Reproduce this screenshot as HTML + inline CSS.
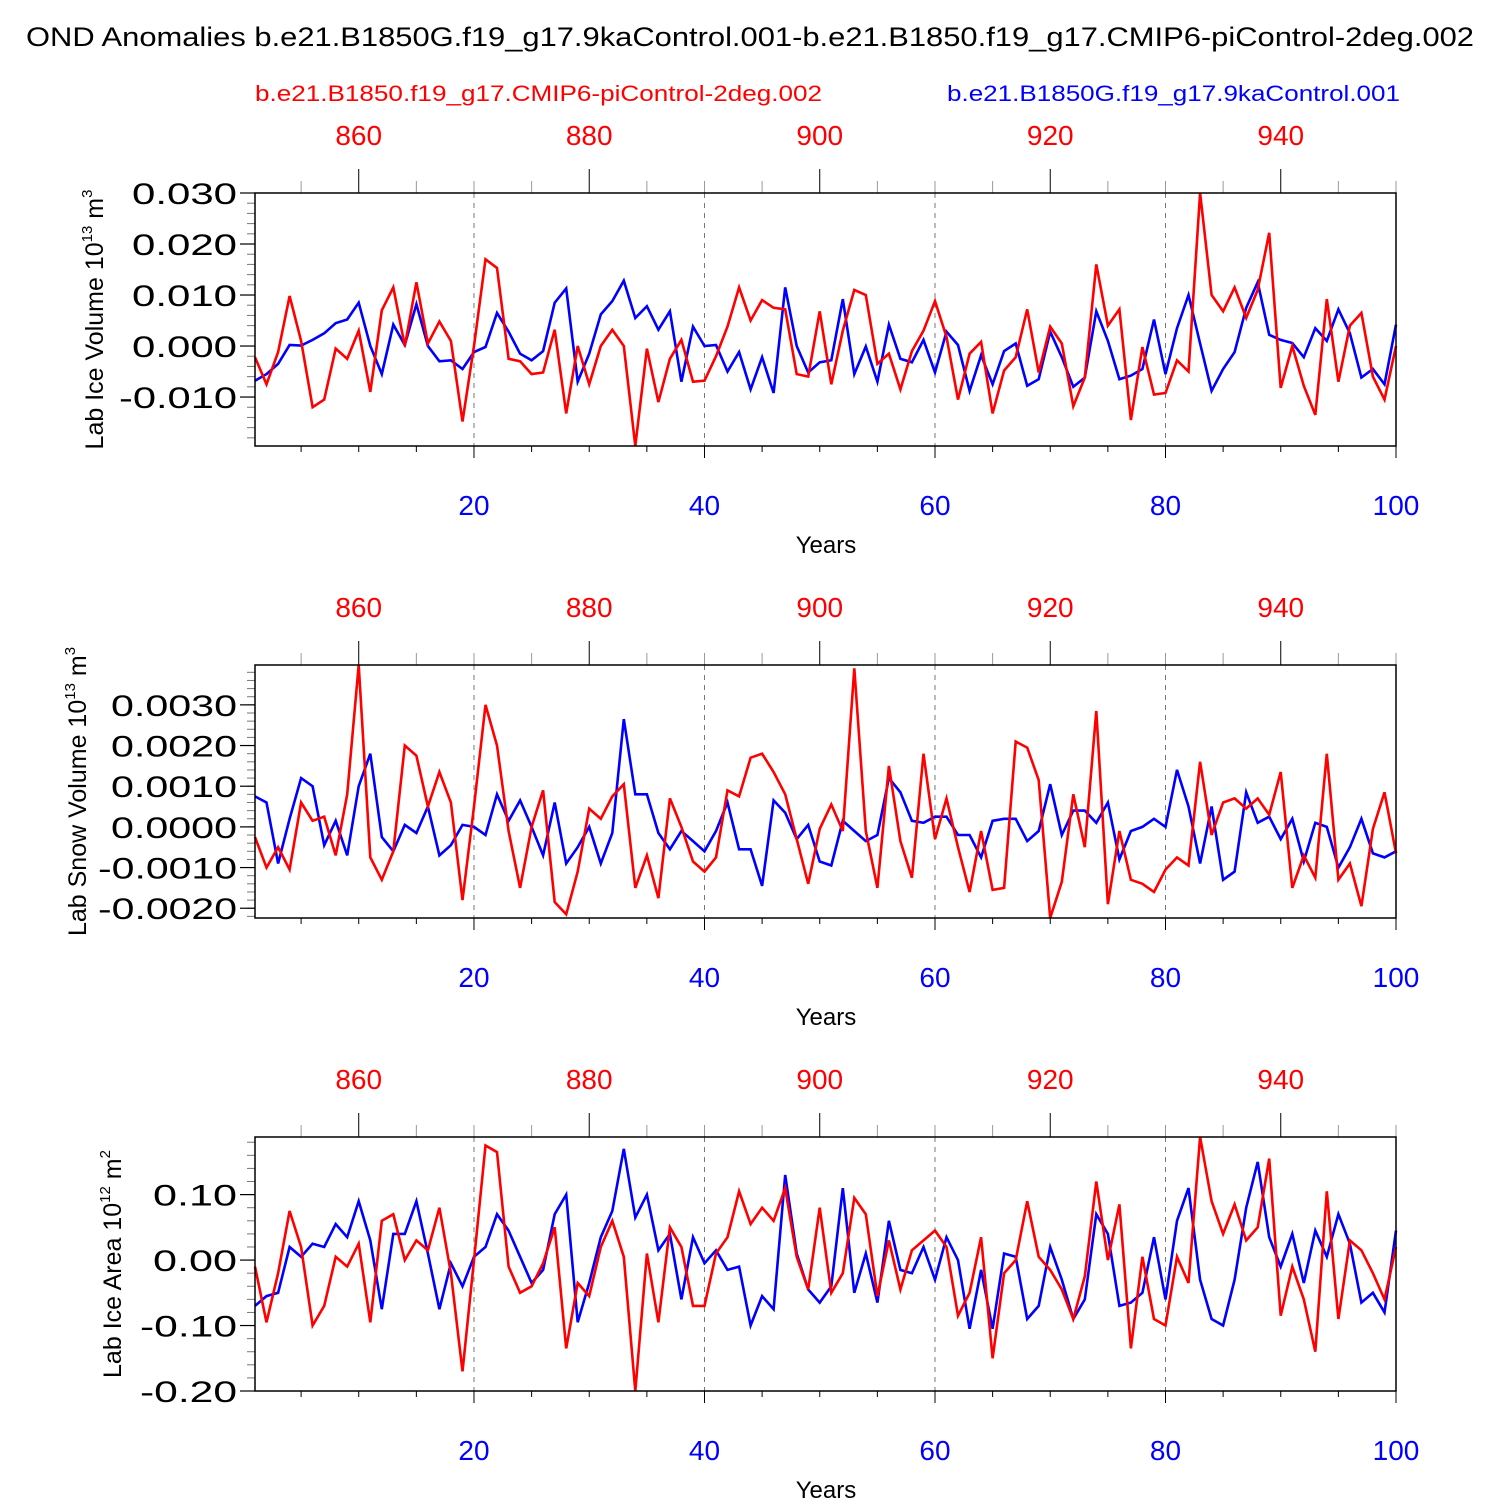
<!DOCTYPE html>
<html><head><meta charset="utf-8"><style>
html,body{margin:0;padding:0;background:#fff;}
svg{display:block;font-family:"Liberation Sans",sans-serif;}
</style></head><body>
<svg id="chart" width="1500" height="1500" viewBox="0 0 1500 1500" xmlns="http://www.w3.org/2000/svg">
<text x="26" y="46" font-size="27" textLength="1448" lengthAdjust="spacingAndGlyphs">OND Anomalies b.e21.B1850G.f19_g17.9kaControl.001-b.e21.B1850.f19_g17.CMIP6-piControl-2deg.002</text>
<text x="255" y="101" font-size="22" fill="#f00" textLength="567" lengthAdjust="spacingAndGlyphs">b.e21.B1850.f19_g17.CMIP6-piControl-2deg.002</text>
<text x="947" y="101" font-size="22" fill="#00f" textLength="453" lengthAdjust="spacingAndGlyphs">b.e21.B1850G.f19_g17.9kaControl.001</text>
<g id="panels"></g>
</svg>
<script>
const years = Array.from({length:100},(_,i)=>i+1);
const ctlOffset = 850;
const topTickYears = [860,880,900,920,940];
const bottomTickYears = [20,40,60,80,100];
// Panel 1: Lab Ice Volume (x1e-3)
const iceVolBlue = [-6.8,-5.5,-3.5,0.2,0.1,1.2,2.5,4.5,5.2,8.5,0,-5.5,4.2,0.2,8.2,0,-3,-2.8,-4.5,-1.2,-0.2,6.5,2.8,-1.5,-2.8,-1,8.5,11.3,-7,-1.5,6.2,8.8,12.8,5.5,7.8,3.2,6.8,-7,3.8,0,0.2,-5,-1.2,-8.5,-2.2,-9.2,11.5,0,-5.2,-3.2,-2.8,9.2,-5.5,-0.1,-7,4.2,-2.5,-3.2,1.2,-5.2,2.8,0.2,-8.8,-1.8,-7.5,-1,0.5,-7.8,-6.5,2.8,-2.2,-8,-6.2,6.8,1,-6.5,-5.8,-4.5,5.2,-5.5,3.5,10,0.5,-8.8,-4.5,-1.2,7.5,12.5,2.2,1.2,0.6,-2.2,3.5,1,7.2,2.5,-6.2,-4.5,-7.5,4.2];
const iceVolRed = [-2.2,-7.5,-1.2,9.8,1,-12,-10.5,-0.5,-2.5,3,-9,7,11.5,0,12.5,0.5,4.8,1,-14.8,0,17,15.3,-2.5,-3,-5.5,-5.2,3.2,-13.2,0,-7.5,0,3.2,0,-19.6,-0.5,-11,-2.5,1.2,-7,-6.8,-2,3.8,11.5,5,9,7.5,7.2,-5.5,-6,6.8,-7.5,3,11,10,-3.5,-1.5,-8.5,-1,3,8.8,1.8,-10.5,-1.5,0.8,-13.2,-4.8,-2.2,7.2,-5.2,3.8,0.5,-11.8,-6.2,16,4,7.2,-14.5,-0.2,-9.5,-9.2,-2.8,-5,30,10,6.8,11.5,5.5,11,22.2,-8.2,0,-7.8,-13.5,9.2,-7,4,6.5,-6,-10.5,0];
// Panel 2: Lab Snow Volume (x1e-4)
const snowVolBlue = [7.5,6,-9,2,12,10,-4.5,1.5,-7,10,18,-2.5,-6,0.5,-1.5,5,-7,-4.5,0.5,0,-2,8,1.5,6.5,0,-7,6,-9,-5,0,-9,-1.5,26.5,8,8,-1.5,-5.5,-1,-3.5,-6,-1,6,-5.5,-5.5,-14.5,6.5,3.5,-3,0.5,-8.5,-9.5,1.5,-1,-3.5,-2,12,8.5,1.5,1,2.5,2.5,-2,-2,-7.5,1.5,2,2,-3.5,-1,10.5,-2,4,4,1,6,-8,-1,0,2,0,14,5,-9,5,-13,-11,8.5,1,2.5,-3,2,-8.5,1,0,-10,-5,2,-6.5,-7.5,-6];
const snowVolRed = [-2.5,-10,-5,-10.5,6,1.5,2.5,-7,8,39.8,-7.5,-13,-6,20,17.5,5,13.5,6,-18,5,30,20,-1,-15,0,9,-18.5,-21.5,-11,4.5,2,7.5,10.5,-15,-7,-17.5,7,0,-8.5,-11,-7.5,9,7.5,17,18,13.5,8,-3,-14,-0.5,5.5,-1,39,-1,-15,15,-3.5,-12.5,18,-3,7,-5,-16,-1,-15.5,-15,21,19.5,11.5,-22.4,-13.5,8,-5,28.5,-19,-1,-13,-14,-16,-10.5,-7.5,-9.5,16,-2,6,7,4.5,7,3,13.5,-15,-7,-12.5,18,-13,-9,-19.5,-0.5,8.5,-6.5];
// Panel 3: Lab Ice Area (x1e-2)
const iceAreaBlue = [-7,-5.5,-5,2,0.5,2.5,2,5.5,3.5,9,3,-7.5,4,4,9,1,-7.5,-0.5,-4,0.5,2,7,4.5,0.5,-3.5,-1.5,7,10,-9.5,-3.5,3.5,7.5,17,6.5,10,1.5,4,-6,3.5,-0.5,1.5,-1.5,-1,-10,-5.5,-7.5,13,1,-4.5,-6.5,-4,11,-5,1,-6.5,6,-1.5,-2,2,-3,3.5,0,-10.5,-1.5,-10.5,1,0.5,-9,-7,2,-3,-9,-6,7,4,-7,-6.5,-5,3.5,-6,6,11,-3,-9,-10,-3,8,15,3.5,-1,4,-3.5,4.5,0.5,7,2.5,-6.5,-5,-8,4.5];
const iceAreaRed = [-1,-9.5,-2,7.5,2,-10,-7,0.5,-1,2.5,-9.5,6,7,0,3,1.5,8,-2,-17,0,17.5,16.5,-1,-5,-4,-0.5,5,-13.5,-3.5,-5.5,2,6,0.5,-20,1,-9.5,5,2,-7,-7,1,3.5,10.5,5.5,8,6,11,0.5,-4.5,8,-5,-2,9.5,7,-5.5,3,-4.5,1.5,3,4.5,2,-8.5,-5,3.5,-15,-2,0,9,0.5,-1.5,-4.5,-9,-2.5,12,0,8.5,-13.5,0.5,-9,-10,0.5,-3.5,18.8,9,4,8.5,3,5,15.5,-8.5,-1,-6,-14,10.5,-9,3,1.5,-2,-6,2];

const NS="http://www.w3.org/2000/svg";
const root=document.getElementById('panels');
function el(tag,attrs,parent){const e=document.createElementNS(NS,tag);for(const k in attrs)e.setAttribute(k,attrs[k]);(parent||root).appendChild(e);return e;}
const X0=255,X1=1396;
function xs(yr){return X0+(yr-1)*(X1-X0)/99;}

const panels=[
 {name:'ice-volume',top:193,bot:446,ymin:-0.0196,ymax:0.030,scale:1e-3,blue:iceVolBlue,red:iceVolRed,
  major:[0.03,0.02,0.01,0,-0.01],labels:['0.030','0.020','0.010','0.000','-0.010'],minorStep:0.002,
  title:['Lab Ice Volume 10','13',' m','3'],tx:103},
 {name:'snow-volume',top:665,bot:918,ymin:-0.00224,ymax:0.00398,scale:1e-4,blue:snowVolBlue,red:snowVolRed,
  major:[0.003,0.002,0.001,0,-0.001,-0.002],labels:['0.0030','0.0020','0.0010','0.0000','-0.0010','-0.0020'],minorStep:0.0002,
  title:['Lab Snow Volume 10','13',' m','3'],tx:86},
 {name:'ice-area',top:1137,bot:1391,ymin:-0.200,ymax:0.188,scale:1e-2,blue:iceAreaBlue,red:iceAreaRed,
  major:[0.1,0,-0.1,-0.2],labels:['0.10','0.00','-0.10','-0.20'],minorStep:0.02,
  title:['Lab Ice Area 10','12',' m','2'],tx:121}
];

panels.forEach(p=>{
 const g=el('g',{});
 
 
 const ys=v=>p.bot-(v-p.ymin)/(p.ymax-p.ymin)*(p.bot-p.top);
 [20,40,60,80].forEach(yr=>{
  const l=el('line',{x1:xs(yr),x2:xs(yr),y1:p.top,y2:p.bot,stroke:'#777','stroke-width':1,'stroke-dasharray':'5,5'},g);
  
  
 });
 for(let yr=5;yr<=100;yr+=5){
  const major=yr%20===0;
  el('line',{x1:xs(yr),x2:xs(yr),y1:p.bot,y2:p.bot+(major?12:6),stroke:'#000','stroke-width':1},g);
 }
 bottomTickYears.forEach(yr=>{
  const t=el('text',{x:xs(yr),y:p.bot+69,'font-size':28,fill:'#00f','text-anchor':'middle'},g);
  t.textContent=yr;
  
  
 });
 const xt=el('text',{x:826,y:p.bot+107,'font-size':24,'text-anchor':'middle'},g);
 xt.textContent='Years';
 
 
 for(let ry=855;ry<=950;ry+=5){
  const yr=ry-ctlOffset;if(yr<1||yr>100)continue;
  const major=ry%20===0;
  el('line',{x1:xs(yr),x2:xs(yr),y1:p.top,y2:p.top-(major?24:12),stroke:major?'#000':'#999','stroke-width':1},g);
 }
 topTickYears.forEach(ry=>{
  const t=el('text',{x:xs(ry-ctlOffset),y:p.top-48,'font-size':28,fill:'#f00','text-anchor':'middle'},g);
  t.textContent=ry;
  
  
 });
 const n0=Math.ceil(p.ymin/p.minorStep-1e-6),n1=Math.floor(p.ymax/p.minorStep+1e-6);
 for(let i=n0;i<=n1;i++){
  const v=i*p.minorStep;
  el('line',{x1:X0-8,x2:X0,y1:ys(v),y2:ys(v),stroke:'#777','stroke-width':1},g);
 }
 p.major.forEach((v,i)=>{
  el('line',{x1:X0-15,x2:X0,y1:ys(v),y2:ys(v),stroke:'#000','stroke-width':1.2},g);
  const lab=p.labels[i];
  const neg=lab[0]==='-';
  const len=(neg?13:0)+(lab.length-(neg?1:0))*21;
  const t=el('text',{x:X0-18,y:ys(v)+11,'font-size':30,'text-anchor':'end',textLength:len,lengthAdjust:'spacingAndGlyphs'},g);
  t.textContent=lab;
  
  
 });
 const cy=(p.top+p.bot)/2;
 const tt=el('text',{x:0,y:0,'font-size':25,'text-anchor':'middle',transform:`translate(${p.tx},${cy}) rotate(-90)`},g);
 
 
 const s1=el('tspan',{},tt);s1.textContent=p.title[0];
 const s2=el('tspan',{dy:-11,'font-size':15},tt);s2.textContent=p.title[1];
 const s3=el('tspan',{dy:11},tt);s3.textContent=p.title[2];
 const s4=el('tspan',{dy:-11,'font-size':15},tt);s4.textContent=p.title[3];
 const mk=(arr,color,nm)=>{
  const d=arr.map((v,i)=>(i?'L':'M')+xs(years[i]).toFixed(1)+','+ys(v*p.scale).toFixed(1)).join('');
  const path=el('path',{d:d,fill:'none',stroke:color,'stroke-width':2.6,'stroke-linejoin':'miter'},g);
  
  
 };
 mk(p.blue,'#00f',p.name+'-9ka-line');
 mk(p.red,'#f00',p.name+'-pi-line');
 const fr=el('rect',{x:X0,y:p.top,width:X1-X0,height:p.bot-p.top,fill:'none',stroke:'#000','stroke-width':1.5},g);
 
 
});
</script>
</body></html>
